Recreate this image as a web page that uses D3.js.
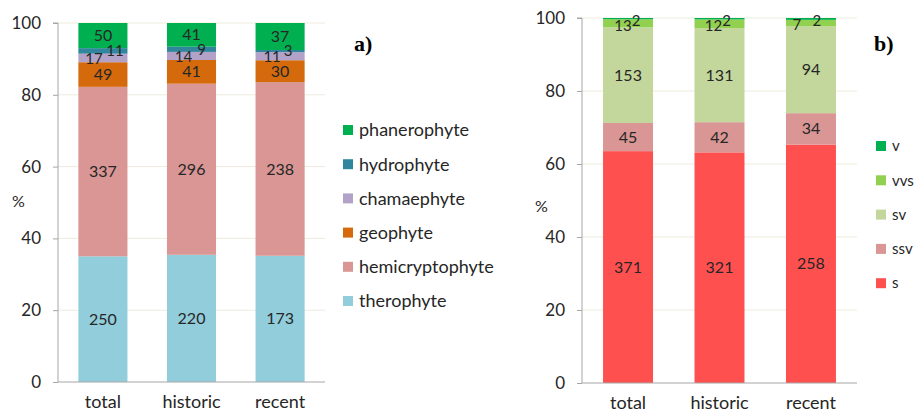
<!DOCTYPE html>
<html><head><meta charset="utf-8">
<script src="https://cdn.jsdelivr.net/npm/d3@7/dist/d3.min.js"></script>
<style>
body{margin:0;background:#fff;}
text{font-family:Lato,"Open Sans",sans-serif;}
text.tag{font-family:"Liberation Serif","Times New Roman",serif;}
</style></head>
<body><svg id="c" width="917" height="417"></svg>
<script>
// ---- data ----
const categories = ["total", "historic", "recent"];
const lifeForms = ["therophyte", "hemicryptophyte", "geophyte", "chamaephyte", "hydrophyte", "phanerophyte"];
const therophyte      = [250, 220, 173];
const hemicryptophyte = [337, 296, 238];
const geophyte        = [49, 41, 30];
const chamaephyte     = [17, 14, 11];
const hydrophyte      = [11, 9, 3];
const phanerophyte    = [50, 41, 37];
const lifeColors = ["#92CDDC", "#D99694", "#D46A0C", "#B3A2C7", "#31859C", "#00B050"];

const moistGroups = ["s", "ssv", "sv", "vvs", "v"];
const s   = [371, 321, 258];
const ssv = [45, 42, 34];
const sv  = [153, 131, 94];
const vvs = [13, 12, 7];
const v   = [2, 2, 2];
const moistColors = ["#FF5050", "#D99694", "#C3D69B", "#92D050", "#00B050"];

const yTicks = [0, 20, 40, 60, 80, 100];

const svg = d3.select("#c");

function drawPanel(cfg) {
  const {keys, values, colors, x0, x1, yTop, yBot, pInner, pOuter, labelDx, labelDy, smallKeys, legendX, legendTextX, legendY, legendStep, legendFont, pctX, pctY, tag, tagX} = cfg;
  const rows = categories.map((c, i) => {
    const r = {cat: c};
    const tot = d3.sum(values, a => a[i]);
    keys.forEach((k, j) => { r[k] = values[j][i] / tot * 100; r["_" + k] = values[j][i]; });
    return r;
  });
  const x = d3.scaleBand().domain(categories).range([x0, x1]).paddingInner(pInner).paddingOuter(pOuter);
  const y = d3.scaleLinear().domain([0, 100]).range([yBot, yTop]);
  const g = svg.append("g");
  // grid
  g.selectAll(".grid").data(yTicks.filter(t => t > 0)).join("line")
    .attr("x1", x0).attr("x2", x1).attr("y1", d => y(d)).attr("y2", d => y(d))
    .attr("stroke", "#EDEBDD").attr("stroke-width", 1);
  const stack = d3.stack().keys(keys)(rows);
  stack.forEach((layer, j) => {
    g.selectAll(null).data(layer).join("rect")
      .attr("x", d => x(d.data.cat)).attr("width", x.bandwidth())
      .attr("y", d => y(d[1])).attr("height", d => y(d[0]) - y(d[1]))
      .attr("fill", colors[j]);
  });
  stack.forEach((layer, j) => {
    const k = keys[j];
    g.selectAll(null).data(layer).join("text")
      .attr("x", (d, i) => x(d.data.cat) + x.bandwidth() / 2 + (labelDx[k] ? labelDx[k][i] : 0))
      .attr("y", d => y((d[0] + d[1]) / 2) + (labelDy[k] || 0))
      .attr("dy", "0.35em").attr("text-anchor", "middle")
      .attr("font-size", smallKeys.includes(k) ? 15 : 16).attr("fill", "#262626")
      .text(d => d.data["_" + k]);
  });
  // axes
  const ya = d3.axisLeft(y).tickValues(yTicks).tickSize(5).tickPadding(12);
  const ag = g.append("g").attr("transform", `translate(${x0},0)`).call(ya);
  ag.select(".domain").attr("stroke", "#A6A6A6").attr("d", `M-5,${yTop}H0V${yBot}`);
  ag.selectAll(".tick line").attr("stroke", "#A6A6A6");
  ag.selectAll(".tick text").attr("font-size", 17).attr("fill", "#262626").attr("font-family", "Lato");
  const xa = d3.axisBottom(x).tickSize(0).tickPadding(13);
  const xg = g.append("g").attr("transform", `translate(0,${yBot})`).call(xa);
  xg.select(".domain").attr("stroke", "#A6A6A6").attr("d", `M${x0},0H${x1}`);
  xg.selectAll(".tick text").attr("font-size", 18).attr("fill", "#262626").attr("font-family", "Lato");
  // % label
  g.append("text").attr("x", pctX).attr("y", pctY).attr("dy", "0.35em").attr("font-size", 16).attr("fill", "#262626").text("%");
  // legend
  const leg = keys.slice().reverse();
  const lc = colors.slice().reverse();
  leg.forEach((k, i) => {
    const ly = legendY + i * legendStep;
    g.append("rect").attr("x", legendX).attr("y", ly - 5).attr("width", 10).attr("height", 10).attr("fill", lc[i]);
    g.append("text").attr("x", legendTextX).attr("y", ly).attr("dy", "0.35em").attr("font-size", legendFont).attr("fill", "#262626").text(k);
  });
  g.append("text").attr("class", "tag").attr("x", tagX).attr("y", 51)
    .attr("font-weight", "bold").attr("font-size", 22).attr("fill", "#000").text(tag);
}

drawPanel({
  keys: lifeForms,
  values: [therophyte, hemicryptophyte, geophyte, chamaephyte, hydrophyte, phanerophyte],
  colors: lifeColors, x0: 58, x1: 325, yTop: 23, yBot: 382, pInner: 0.446, pOuter: 0.23,
  labelDx: {chamaephyte: [-9, -8, -8], hydrophyte: [12, 10, 8]},
  labelDy: {chamaephyte: 1, hydrophyte: 0},
  smallKeys: ["chamaephyte", "hydrophyte"],
  legendX: 343, legendTextX: 359, legendY: 130, legendStep: 34.2, legendFont: 18,
  pctX: 12, pctY: 201, tag: "a)", tagX: 354
});
drawPanel({
  keys: moistGroups,
  values: [s, ssv, sv, vvs, v],
  colors: moistColors, x0: 582, x1: 857, yTop: 18, yBot: 383, pInner: 0.4536, pOuter: 0.23,
  labelDx: {vvs: [-5, -6, -14], v: [8, 7, 6]},
  labelDy: {vvs: 2, v: 2},
  smallKeys: ["vvs", "v"],
  legendX: 876, legendTextX: 892, legendY: 146, legendStep: 34.3, legendFont: 15,
  pctX: 535, pctY: 206, tag: "b)", tagX: 874
});
</script></body></html>
